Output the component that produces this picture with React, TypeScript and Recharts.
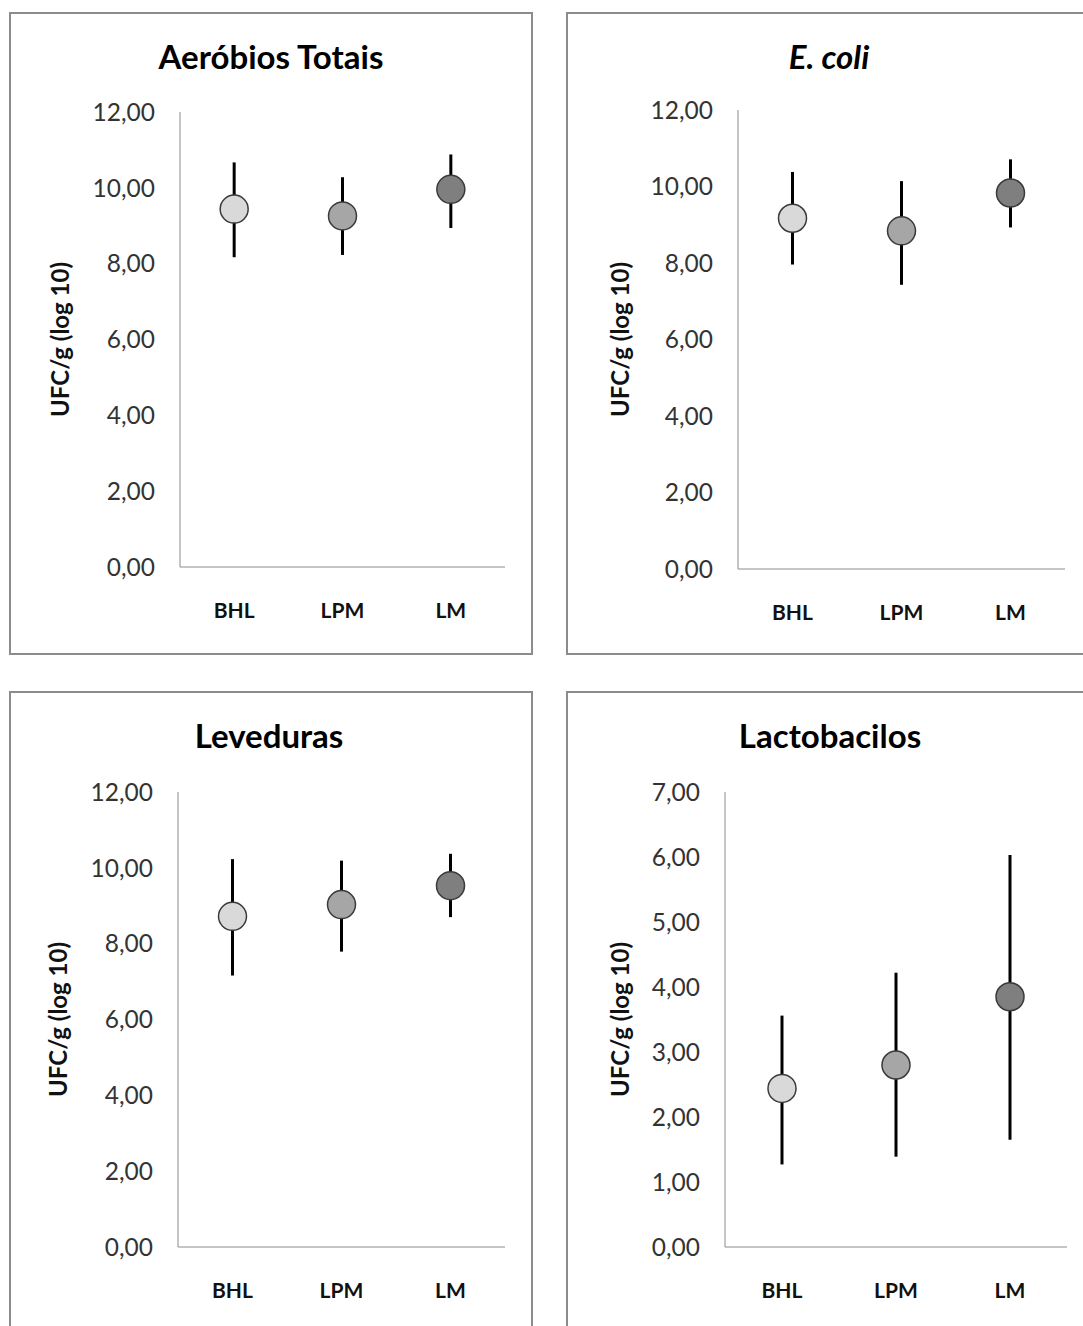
import React from 'react';
import { ComposedChart, Scatter, ErrorBar, XAxis, YAxis } from 'recharts';

const categories = ['BHL', 'LPM', 'LM'];
const markerFills = ['#d9d9d9', '#a6a6a6', '#7f7f7f'];

const aerobiosMean = [9.44, 9.26, 9.96];
const aerobiosLow = [8.17, 8.23, 8.94];
const aerobiosHigh = [10.67, 10.28, 10.88];

const ecoliMean = [9.17, 8.84, 9.83];
const ecoliLow = [7.96, 7.43, 8.93];
const ecoliHigh = [10.38, 10.14, 10.71];

const levedurasMean = [8.72, 9.03, 9.53];
const levedurasLow = [7.16, 7.79, 8.7];
const levedurasHigh = [10.23, 10.19, 10.37];

const lactoMean = [2.44, 2.8, 3.85];
const lactoLow = [1.27, 1.39, 1.65];
const lactoHigh = [3.56, 4.22, 6.03];

const ticks12 = [0, 2, 4, 6, 8, 10, 12];
const ticks7 = [0, 1, 2, 3, 4, 5, 6, 7];

const FONT = 'Lato, "Open Sans", sans-serif';
const AXIS_GRAY = '#8c8c8c';

const buildRows = (mean: number[], low: number[], high: number[]) =>
  categories.map((name, i) => ({
    name,
    value: mean[i],
    err: [mean[i] - low[i], high[i] - mean[i]],
  }));

const fmtTick = (v: number) => v.toFixed(2).replace('.', ',');

interface PanelProps {
  left: number;
  top: number;
  title: string;
  italic?: boolean;
  titleX: number;
  labelX: number;
  plot: { left: number; right: number; top: number; bottom: number };
  rows: { name: string; value: number; err: number[] }[];
  yMax: number;
  yTicks: number[];
}

const W = 540;
const H = 643;
const X_AXIS_H = 60;
const Y_LEFT = 20;

function Panel({ left, top, title, italic, titleX, labelX, plot, rows, yMax, yTicks }: PanelProps) {
  const yAxisW = plot.left - Y_LEFT;
  return (
    <div style={{ position: 'absolute', left, top, width: W, height: H }}>
      <ComposedChart
        width={W}
        height={H}
        data={rows}
        margin={{
          left: Y_LEFT,
          right: W - plot.right,
          top: plot.top,
          bottom: H - plot.bottom - X_AXIS_H,
        }}
      >
        <XAxis
          dataKey="name"
          scale="band"
          height={X_AXIS_H}
          axisLine={{ stroke: AXIS_GRAY, strokeWidth: 1 }}
          tickLine={false}
          tickSize={0}
          tickMargin={36}
          tick={{ fill: '#111', fontSize: 21, fontWeight: 700, fontFamily: FONT }}
        />
        <YAxis
          type="number"
          domain={[0, yMax]}
          ticks={yTicks}
          width={yAxisW}
          axisLine={{ stroke: AXIS_GRAY, strokeWidth: 1 }}
          tickLine={false}
          tickSize={0}
          tickMargin={25}
          tickFormatter={fmtTick}
          tick={{ fill: '#333', fontSize: 24.5, fontFamily: FONT }}
          label={{
            value: 'UFC/g (log 10)',
            angle: -90,
            position: 'insideLeft',
            offset: labelX - Y_LEFT,
            style: { textAnchor: 'middle', fontSize: 24, fontWeight: 700, fontFamily: FONT, fill: '#111' },
          }}
        />
        <Scatter
          dataKey="value"
          isAnimationActive={false}
          shape={(p: any) => (
            <circle
              cx={p.cx}
              cy={p.cy}
              r={14}
              fill={markerFills[categories.indexOf(p.payload.name)]}
              stroke="#3a3a3a"
              strokeWidth={1.5}
            />
          )}
        >
          <ErrorBar dataKey="err" direction="y" width={0} stroke="#000" strokeWidth={3} />
        </Scatter>
      </ComposedChart>
      <div
        style={{
          position: 'absolute',
          left: titleX - 200,
          width: 400,
          top: 28,
          textAlign: 'center',
          fontFamily: FONT,
          fontWeight: 700,
          fontStyle: italic ? 'italic' : 'normal',
          fontSize: 33,
          lineHeight: '33px',
          color: '#000',
        }}
      >
        {title}
      </div>
      <div
        style={{
          position: 'absolute',
          left: 0,
          top: 0,
          width: 524,
          height: H,
          boxSizing: 'border-box',
          border: `2px solid ${AXIS_GRAY}`,
          pointerEvents: 'none',
        }}
      />
    </div>
  );
}

export default function App() {
  return (
    <div
      style={{
        position: 'absolute',
        left: 0,
        top: 0,
        width: 1083,
        height: 1326,
        overflow: 'hidden',
        background: '#fff',
      }}
    >
      <Panel
        left={9}
        top={12}
        title="Aeróbios Totais"
        titleX={262}
        labelX={51}
        plot={{ left: 171, right: 496, top: 100, bottom: 555 }}
        rows={buildRows(aerobiosMean, aerobiosLow, aerobiosHigh)}
        yMax={12}
        yTicks={ticks12}
      />
      <Panel
        left={566}
        top={12}
        title="E. coli"
        italic
        titleX={263}
        labelX={54}
        plot={{ left: 172, right: 499, top: 98, bottom: 557 }}
        rows={buildRows(ecoliMean, ecoliLow, ecoliHigh)}
        yMax={12}
        yTicks={ticks12}
      />
      <Panel
        left={9}
        top={691}
        title="Leveduras"
        titleX={260}
        labelX={49}
        plot={{ left: 169, right: 496, top: 101, bottom: 556 }}
        rows={buildRows(levedurasMean, levedurasLow, levedurasHigh)}
        yMax={12}
        yTicks={ticks12}
      />
      <Panel
        left={566}
        top={691}
        title="Lactobacilos"
        titleX={264}
        labelX={54}
        plot={{ left: 159, right: 501, top: 101, bottom: 556 }}
        rows={buildRows(lactoMean, lactoLow, lactoHigh)}
        yMax={7}
        yTicks={ticks7}
      />
    </div>
  );
}
